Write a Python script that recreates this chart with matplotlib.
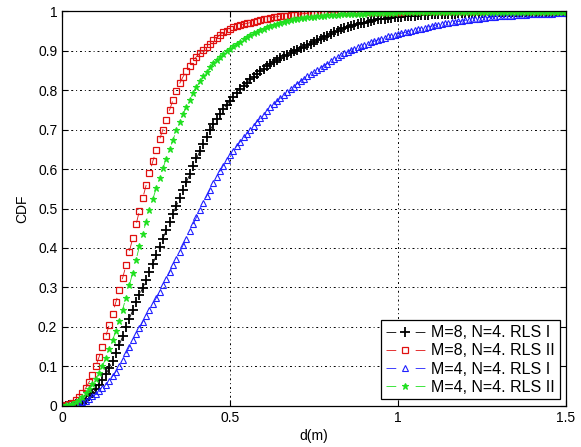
import numpy as np
from matplotlib import pyplot as plt

plt.rcParams['font.family'] = ['Liberation Sans', 'DejaVu Sans']

# distance grid (m), one sample every 0.01
d = np.round(np.arange(0, 151) * 0.01, 2)

# M=8, N=4, RLS I
cdf_m8_rls1 = [
    0.000, 0.000, 0.001, 0.003, 0.005, 0.008, 0.012, 0.018, 0.025, 0.033,
    0.042, 0.053, 0.065, 0.080, 0.096, 0.114, 0.133, 0.154, 0.176, 0.199,
    0.221, 0.242, 0.262, 0.281, 0.299, 0.318, 0.338, 0.359, 0.381, 0.403,
    0.424, 0.445, 0.466, 0.487, 0.507, 0.527, 0.547, 0.567, 0.587, 0.607,
    0.627, 0.645, 0.663, 0.681, 0.698, 0.713, 0.727, 0.740, 0.752, 0.763,
    0.773, 0.783, 0.793, 0.802, 0.811, 0.819, 0.827, 0.834, 0.841, 0.848,
    0.854, 0.860, 0.866, 0.871, 0.876, 0.881, 0.886, 0.890, 0.894, 0.898,
    0.902, 0.906, 0.910, 0.914, 0.918, 0.922, 0.926, 0.930, 0.934, 0.938,
    0.942, 0.946, 0.950, 0.954, 0.957, 0.960, 0.963, 0.965, 0.967, 0.969,
    0.971, 0.973, 0.975, 0.977, 0.979, 0.980, 0.981, 0.982, 0.983, 0.984,
    0.985, 0.986, 0.987, 0.988, 0.988, 0.989, 0.990, 0.990, 0.991, 0.991,
    0.992, 0.992, 0.993, 0.993, 0.993, 0.994, 0.994, 0.994, 0.995, 0.995,
    0.995, 0.995, 0.996, 0.996, 0.996, 0.996, 0.997, 0.997, 0.997, 0.997,
    0.997, 0.998, 0.998, 0.998, 0.998, 0.998, 0.998, 0.998, 0.998, 0.998,
    0.998, 0.998, 0.998, 0.999, 0.999, 0.999, 0.999, 0.999, 0.999, 0.999,
    0.999]

# M=8, N=4, RLS II
cdf_m8_rls2 = [
    0.000, 0.001, 0.004, 0.008, 0.014, 0.022, 0.032, 0.045, 0.060, 0.079,
    0.100, 0.124, 0.150, 0.177, 0.205, 0.234, 0.263, 0.293, 0.324, 0.356,
    0.390, 0.425, 0.460, 0.494, 0.527, 0.559, 0.590, 0.620, 0.648, 0.675,
    0.700, 0.725, 0.750, 0.775, 0.798, 0.817, 0.834, 0.849, 0.862, 0.874,
    0.885, 0.894, 0.902, 0.910, 0.918, 0.926, 0.933, 0.940, 0.946, 0.951,
    0.955, 0.959, 0.962, 0.965, 0.967, 0.969, 0.971, 0.973, 0.975, 0.977,
    0.979, 0.981, 0.983, 0.985, 0.986, 0.987, 0.988, 0.989, 0.990, 0.991,
    0.992, 0.993, 0.994, 0.994, 0.995, 0.995, 0.996, 0.996, 0.997, 0.997,
    0.997, 0.998, 0.998, 0.998, 0.998, 0.998, 0.999, 0.999, 0.999, 0.999,
    0.999, 0.999, 0.999, 0.999, 0.999, 0.999, 0.999, 0.999, 0.999, 0.999,
    0.999, 0.999, 1.000, 1.000, 1.000, 1.000, 1.000, 1.000, 1.000, 1.000,
    1.000, 1.000, 1.000, 1.000, 1.000, 1.000, 1.000, 1.000, 1.000, 1.000,
    1.000, 1.000, 1.000, 1.000, 1.000, 1.000, 1.000, 1.000, 1.000, 1.000,
    1.000, 1.000, 1.000, 1.000, 1.000, 1.000, 1.000, 1.000, 1.000, 1.000,
    1.000, 1.000, 1.000, 1.000, 1.000, 1.000, 1.000, 1.000, 1.000, 1.000,
    1.000]

# M=4, N=4, RLS I
cdf_m4_rls1 = [
    0.000, 0.000, 0.001, 0.002, 0.004, 0.006, 0.009, 0.013, 0.018, 0.024,
    0.030, 0.037, 0.045, 0.054, 0.064, 0.075, 0.087, 0.100, 0.116, 0.133,
    0.150, 0.166, 0.182, 0.198, 0.213, 0.228, 0.243, 0.258, 0.273, 0.289,
    0.305, 0.322, 0.339, 0.356, 0.373, 0.390, 0.407, 0.424, 0.442, 0.460,
    0.478, 0.496, 0.514, 0.531, 0.548, 0.564, 0.580, 0.595, 0.609, 0.622,
    0.635, 0.647, 0.658, 0.669, 0.680, 0.690, 0.700, 0.710, 0.720, 0.729,
    0.738, 0.747, 0.756, 0.764, 0.772, 0.780, 0.788, 0.795, 0.802, 0.809,
    0.816, 0.823, 0.829, 0.835, 0.841, 0.847, 0.852, 0.857, 0.862, 0.867,
    0.874, 0.879, 0.884, 0.889, 0.893, 0.897, 0.901, 0.905, 0.909, 0.912,
    0.915, 0.918, 0.921, 0.924, 0.927, 0.930, 0.933, 0.936, 0.938, 0.940,
    0.942, 0.944, 0.946, 0.948, 0.950, 0.952, 0.954, 0.956, 0.958, 0.960,
    0.962, 0.964, 0.966, 0.967, 0.969, 0.970, 0.972, 0.973, 0.974, 0.975,
    0.977, 0.978, 0.979, 0.980, 0.981, 0.982, 0.983, 0.984, 0.985, 0.986,
    0.987, 0.988, 0.988, 0.989, 0.989, 0.990, 0.990, 0.991, 0.991, 0.992,
    0.992, 0.993, 0.993, 0.993, 0.994, 0.994, 0.994, 0.995, 0.995, 0.995,
    0.996]

# M=4, N=4, RLS II
cdf_m4_rls2 = [
    0.000, 0.001, 0.003, 0.006, 0.010, 0.016, 0.023, 0.032, 0.043, 0.055,
    0.068, 0.083, 0.101, 0.121, 0.143, 0.166, 0.190, 0.216, 0.244, 0.274,
    0.305, 0.337, 0.370, 0.404, 0.436, 0.467, 0.496, 0.524, 0.551, 0.577,
    0.602, 0.626, 0.650, 0.674, 0.698, 0.719, 0.739, 0.758, 0.776, 0.793,
    0.808, 0.822, 0.835, 0.847, 0.858, 0.868, 0.877, 0.885, 0.892, 0.899,
    0.905, 0.911, 0.917, 0.923, 0.929, 0.935, 0.940, 0.944, 0.948, 0.952,
    0.956, 0.959, 0.962, 0.965, 0.968, 0.971, 0.973, 0.975, 0.977, 0.979,
    0.981, 0.982, 0.983, 0.984, 0.985, 0.986, 0.987, 0.988, 0.989, 0.990,
    0.990, 0.991, 0.991, 0.992, 0.992, 0.993, 0.993, 0.993, 0.994, 0.994,
    0.994, 0.995, 0.995, 0.995, 0.995, 0.996, 0.996, 0.996, 0.996, 0.996,
    0.997, 0.997, 0.997, 0.997, 0.997, 0.997, 0.997, 0.997, 0.997, 0.997,
    0.997, 0.997, 0.998, 0.998, 0.998, 0.998, 0.998, 0.998, 0.998, 0.998,
    0.998, 0.998, 0.998, 0.998, 0.998, 0.998, 0.998, 0.998, 0.998, 0.998,
    0.998, 0.998, 0.999, 0.999, 0.999, 0.999, 0.999, 0.999, 0.999, 0.999,
    0.999, 0.999, 0.999, 0.999, 0.999, 0.999, 0.999, 0.999, 0.999, 0.999,
    0.999]

labels = ['M=8, N=4. RLS I', 'M=8, N=4. RLS II',
          'M=4, N=4. RLS I', 'M=4, N=4. RLS II']
xticks = [0, 0.5, 1, 1.5]
xticklabels = ['0', '0.5', '1', '1.5']
yticks = [0, 0.1, 0.2, 0.3, 0.4, 0.5, 0.6, 0.7, 0.8, 0.9, 1]
yticklabels = ['0', '0.1', '0.2', '0.3', '0.4', '0.5', '0.6', '0.7', '0.8', '0.9', '1']

fig = plt.figure(figsize=(5.81, 4.47), dpi=100)
ax = fig.add_axes([0.107, 0.092, 0.867, 0.883])

dash = (0, (11.7, 23.3))
ax.plot(d, cdf_m8_rls1, color='k', ls=dash, lw=0.6, marker='+', ms=6.5,
        mew=1.3, label=labels[0])
ax.plot(d, cdf_m8_rls2, color='#e01010', ls=dash, lw=0.6, marker='s', ms=4.3,
        mew=0.9, mfc='none', label=labels[1])
ax.plot(d, cdf_m4_rls1, color='#2020ff', ls=dash, lw=0.6, marker='^', ms=5,
        mew=0.8, mfc='none', label=labels[2])
ax.plot(d, cdf_m4_rls2, color='#20e020', ls=dash, lw=0.6, marker='*', ms=5,
        mew=0.8, label=labels[3])

ax.set_xlim(0, 1.5)
ax.set_ylim(0, 1)
ax.set_xticks(xticks)
ax.set_xticklabels(xticklabels)
ax.set_yticks(yticks)
ax.set_yticklabels(yticklabels)
ax.tick_params(direction='in', top=True, right=True, labelsize=10, length=4)
ax.grid(True, color='k', ls=(0, (2, 3, 1, 3)), lw=0.7)
for s in ax.spines.values():
    s.set_linewidth(0.9)

ax.set_xlabel('d(m)', fontsize=10, labelpad=3)
ax.set_ylabel('CDF', fontsize=10, labelpad=6)

leg = ax.legend(loc='lower right', fontsize=11.5, fancybox=False,
                edgecolor='k', framealpha=1, handlelength=2.4,
                borderpad=0.3, labelspacing=0.2, handletextpad=0.4,
                borderaxespad=0.4)
leg.get_frame().set_linewidth(0.9)

fig.savefig('out.png', dpi=100)
